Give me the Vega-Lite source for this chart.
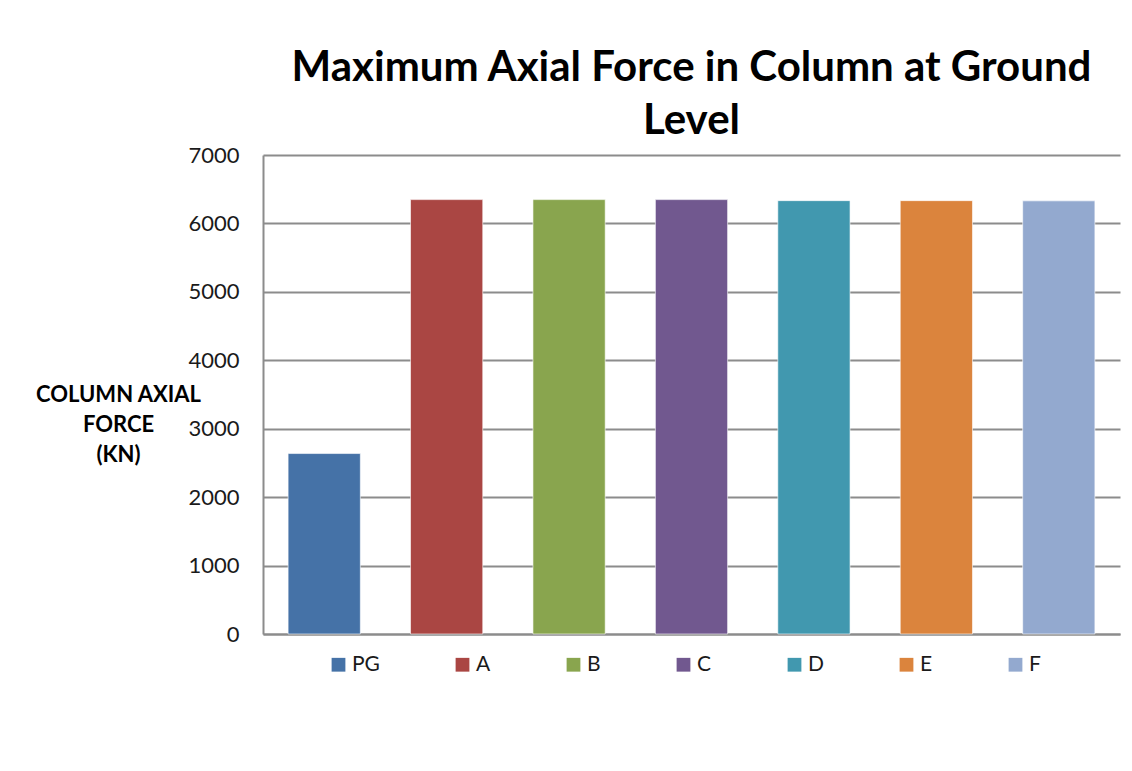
{
  "$schema": "https://vega.github.io/schema/vega-lite/v6.json",
  "autosize": {"type": "none"},
  "width": 857,
  "height": 479,
  "padding": {"left": 263, "top": 155, "right": 12, "bottom": 137},
  "background": "#ffffff",
  "title": {
    "text": ["Maximum Axial Force in Column at Ground", "Level"],
    "font": "Lato",
    "fontSize": 42,
    "fontWeight": "bold",
    "color": "#000000",
    "lineHeight": 53,
    "anchor": "middle",
    "frame": "group",
    "offset": 1
  },
  "data": {
    "values": [
      {"model": "PG", "force": 2637},
      {"model": "A", "force": 6348},
      {"model": "B", "force": 6348},
      {"model": "C", "force": 6348},
      {"model": "D", "force": 6333},
      {"model": "E", "force": 6333},
      {"model": "F", "force": 6330}
    ]
  },
  "mark": {"type": "bar", "stroke": "#ffffff", "strokeWidth": 1, "strokeOpacity": 0.6},
  "encoding": {
    "x": {
      "field": "model",
      "type": "nominal",
      "sort": ["PG", "A", "B", "C", "D", "E", "F"],
      "scale": {"paddingInner": 0.41, "paddingOuter": 0.205},
      "axis": {
        "title": null,
        "labels": false,
        "ticks": false,
        "domain": true,
        "domainColor": "#8c8c8c",
        "domainWidth": 2,
        "grid": false
      }
    },
    "y": {
      "field": "force",
      "type": "quantitative",
      "scale": {"domain": [0, 7000], "nice": false},
      "axis": {
        "values": [0, 1000, 2000, 3000, 4000, 5000, 6000, 7000],
        "format": "d",
        "ticks": false,
        "domain": true,
        "domainColor": "#8c8c8c",
        "domainWidth": 2,
        "grid": true,
        "gridColor": "#8c8c8c",
        "gridWidth": 2,
        "labelFont": "Lato",
        "labelFontSize": 22,
        "labelColor": "#1a1a1a",
        "labelPadding": 24,
        "title": ["COLUMN AXIAL", "FORCE", "(KN)"],
        "titleFont": "Lato",
        "titleFontSize": 22,
        "titleFontWeight": "bold",
        "titleColor": "#000000",
        "titleAngle": 0,
        "titleAlign": "center",
        "titleBaseline": "alphabetic",
        "titleLineHeight": 30,
        "titleX": -145,
        "titleY": 246
      }
    },
    "color": {
      "field": "model",
      "type": "nominal",
      "sort": ["PG", "A", "B", "C", "D", "E", "F"],
      "scale": {
        "domain": ["PG", "A", "B", "C", "D", "E", "F"],
        "range": ["#4572A7", "#AA4643", "#89A54E", "#71588F", "#4198AF", "#DB843D", "#93A9CF"]
      },
      "legend": {
        "title": null,
        "orient": "none",
        "direction": "horizontal",
        "legendX": 65,
        "legendY": 499,
        "symbolType": "square",
        "symbolSize": 190,
        "symbolStrokeWidth": 0,
        "labelFont": "Lato",
        "labelFontSize": 21,
        "labelColor": "#1a1a1a",
        "labelOffset": 3,
        "columnPadding": 72
      }
    }
  },
  "config": {"view": {"stroke": null}}
}
